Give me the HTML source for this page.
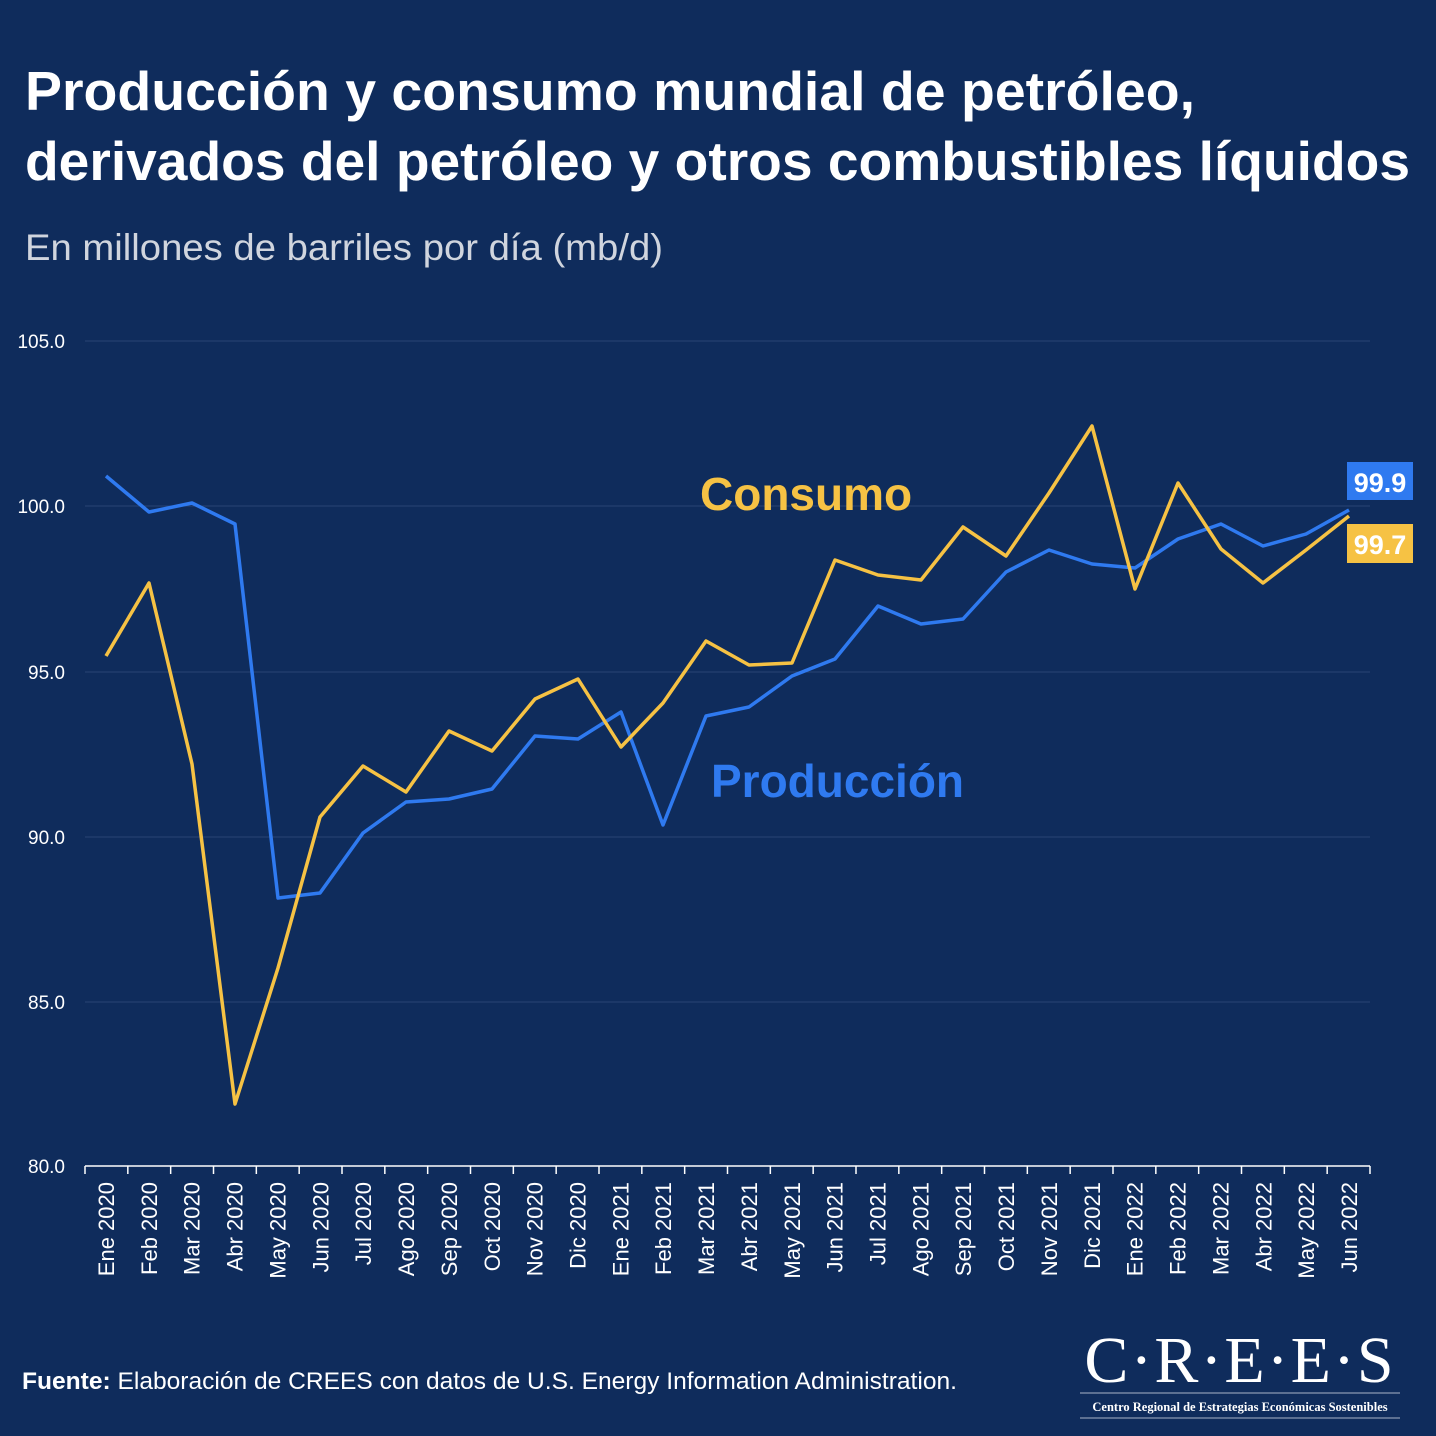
<!DOCTYPE html>
<html><head><meta charset="utf-8"><style>
body{margin:0;background:#0f2c5c;width:1436px;height:1436px;overflow:hidden;font-family:"Liberation Sans",sans-serif}
</style></head><body>
<svg width="1436" height="1436" xmlns="http://www.w3.org/2000/svg" style="position:absolute;left:0;top:0">
<rect width="1436" height="1436" fill="#0f2c5c"/>
<text x="25" y="110" fill="#fff" font-size="55" font-weight="bold" font-family="Liberation Sans" textLength="1170" lengthAdjust="spacingAndGlyphs">Producción y consumo mundial de petróleo,</text>
<text x="25" y="180" fill="#fff" font-size="55" font-weight="bold" font-family="Liberation Sans" textLength="1385" lengthAdjust="spacingAndGlyphs">derivados del petróleo y otros combustibles líquidos</text>
<text x="25" y="260" fill="#d0d5de" font-size="37" font-family="Liberation Sans" textLength="638" lengthAdjust="spacingAndGlyphs">En millones de barriles por día (mb/d)</text>
<g stroke="#2a4575" stroke-width="1">
<line x1="85" x2="1370" y1="341" y2="341"/><line x1="85" x2="1370" y1="506" y2="506"/>
<line x1="85" x2="1370" y1="672" y2="672"/><line x1="85" x2="1370" y1="837" y2="837"/>
<line x1="85" x2="1370" y1="1002" y2="1002"/>
</g>
<line x1="85" x2="1370" y1="1166" y2="1166" stroke="#fff" stroke-width="1.5"/>
<g fill="#fff" font-size="19" text-anchor="end" font-family="Liberation Sans">
<text x="65" y="348">105.0</text><text x="65" y="513">100.0</text><text x="65" y="679">95.0</text>
<text x="65" y="844">90.0</text><text x="65" y="1009">85.0</text><text x="65" y="1173">80.0</text>
</g>
<g id="ticks" stroke="#fff" stroke-width="1.5"></g>
<g id="labels" fill="#fff" font-size="22" font-family="Liberation Sans" text-anchor="end"></g>
<polyline fill="none" stroke="#2f7af0" stroke-width="3.5" stroke-linejoin="round" points="106,476 149,512 192,503 235,524 278,898 320,893 363,833 406,802 449,799 492,789 535,736 578,739 621,712 663,825 706,716 749,707 792,676 835,659 878,606 921,624 963,619 1006,572 1049,550 1092,564 1135,568 1178,539 1221,524 1263,546 1306,534 1349,510"/>
<polyline fill="none" stroke="#f6c244" stroke-width="3.5" stroke-linejoin="round" points="106,656 149,583 192,764 235,1104 278,968 320,817 363,766 406,792 449,731 492,751 535,699 578,679 621,747 663,703 706,641 749,665 792,663 835,560 878,575 921,580 963,527 1006,556 1049,493 1092,426 1135,589 1178,483 1221,549 1263,583 1306,550 1349,516"/>
<text x="700" y="510" fill="#f6c244" font-size="46" font-weight="bold" font-family="Liberation Sans">Consumo</text>
<text x="711" y="797" fill="#2f7af0" font-size="46" font-weight="bold" font-family="Liberation Sans">Producción</text>
<rect x="1347" y="462" width="66" height="38" fill="#2f7af0"/>
<text x="1380" y="492" fill="#fff" font-size="27" font-weight="bold" text-anchor="middle" font-family="Liberation Sans">99.9</text>
<rect x="1347" y="524" width="66" height="39" fill="#f6c244"/>
<text x="1380" y="554" fill="#fff" font-size="27" font-weight="bold" text-anchor="middle" font-family="Liberation Sans">99.7</text>
<text x="22" y="1389" fill="#fff" font-size="24" font-family="Liberation Sans" textLength="935" lengthAdjust="spacingAndGlyphs"><tspan font-weight="bold">Fuente:</tspan> Elaboración de CREES con datos de U.S. Energy Information Administration.</text>
<text x="1240" y="1382" fill="#fff" font-size="66" text-anchor="middle" font-family="Liberation Serif" letter-spacing="2">C·R·E·E·S</text>
<line x1="1080" x2="1400" y1="1393" y2="1393" stroke="#aab4c8" stroke-width="1"/>
<text x="1240" y="1411" fill="#fff" font-size="12.5" text-anchor="middle" font-weight="bold" font-family="Liberation Serif">Centro Regional de Estrategias Económicas Sostenibles</text>
<line x1="1080" x2="1400" y1="1418" y2="1418" stroke="#aab4c8" stroke-width="1"/>
</svg>
<script>
var m=["Ene","Feb","Mar","Abr","May","Jun","Jul","Ago","Sep","Oct","Nov","Dic"];
var t=document.getElementById("ticks"),l=document.getElementById("labels"),ns="http://www.w3.org/2000/svg";
for(var i=0;i<=30;i++){var x=85+i*(1285/30);var ln=document.createElementNS(ns,"line");ln.setAttribute("x1",x);ln.setAttribute("x2",x);ln.setAttribute("y1",1166);ln.setAttribute("y2",1174);t.appendChild(ln);}
for(var i=0;i<30;i++){var x=106+i*(1243/29);var tx=document.createElementNS(ns,"text");tx.setAttribute("transform","translate("+(x+8)+",1182) rotate(-90)");tx.textContent=m[i%12]+" "+(2020+Math.floor(i/12));l.appendChild(tx);}
</script>
</body></html>
